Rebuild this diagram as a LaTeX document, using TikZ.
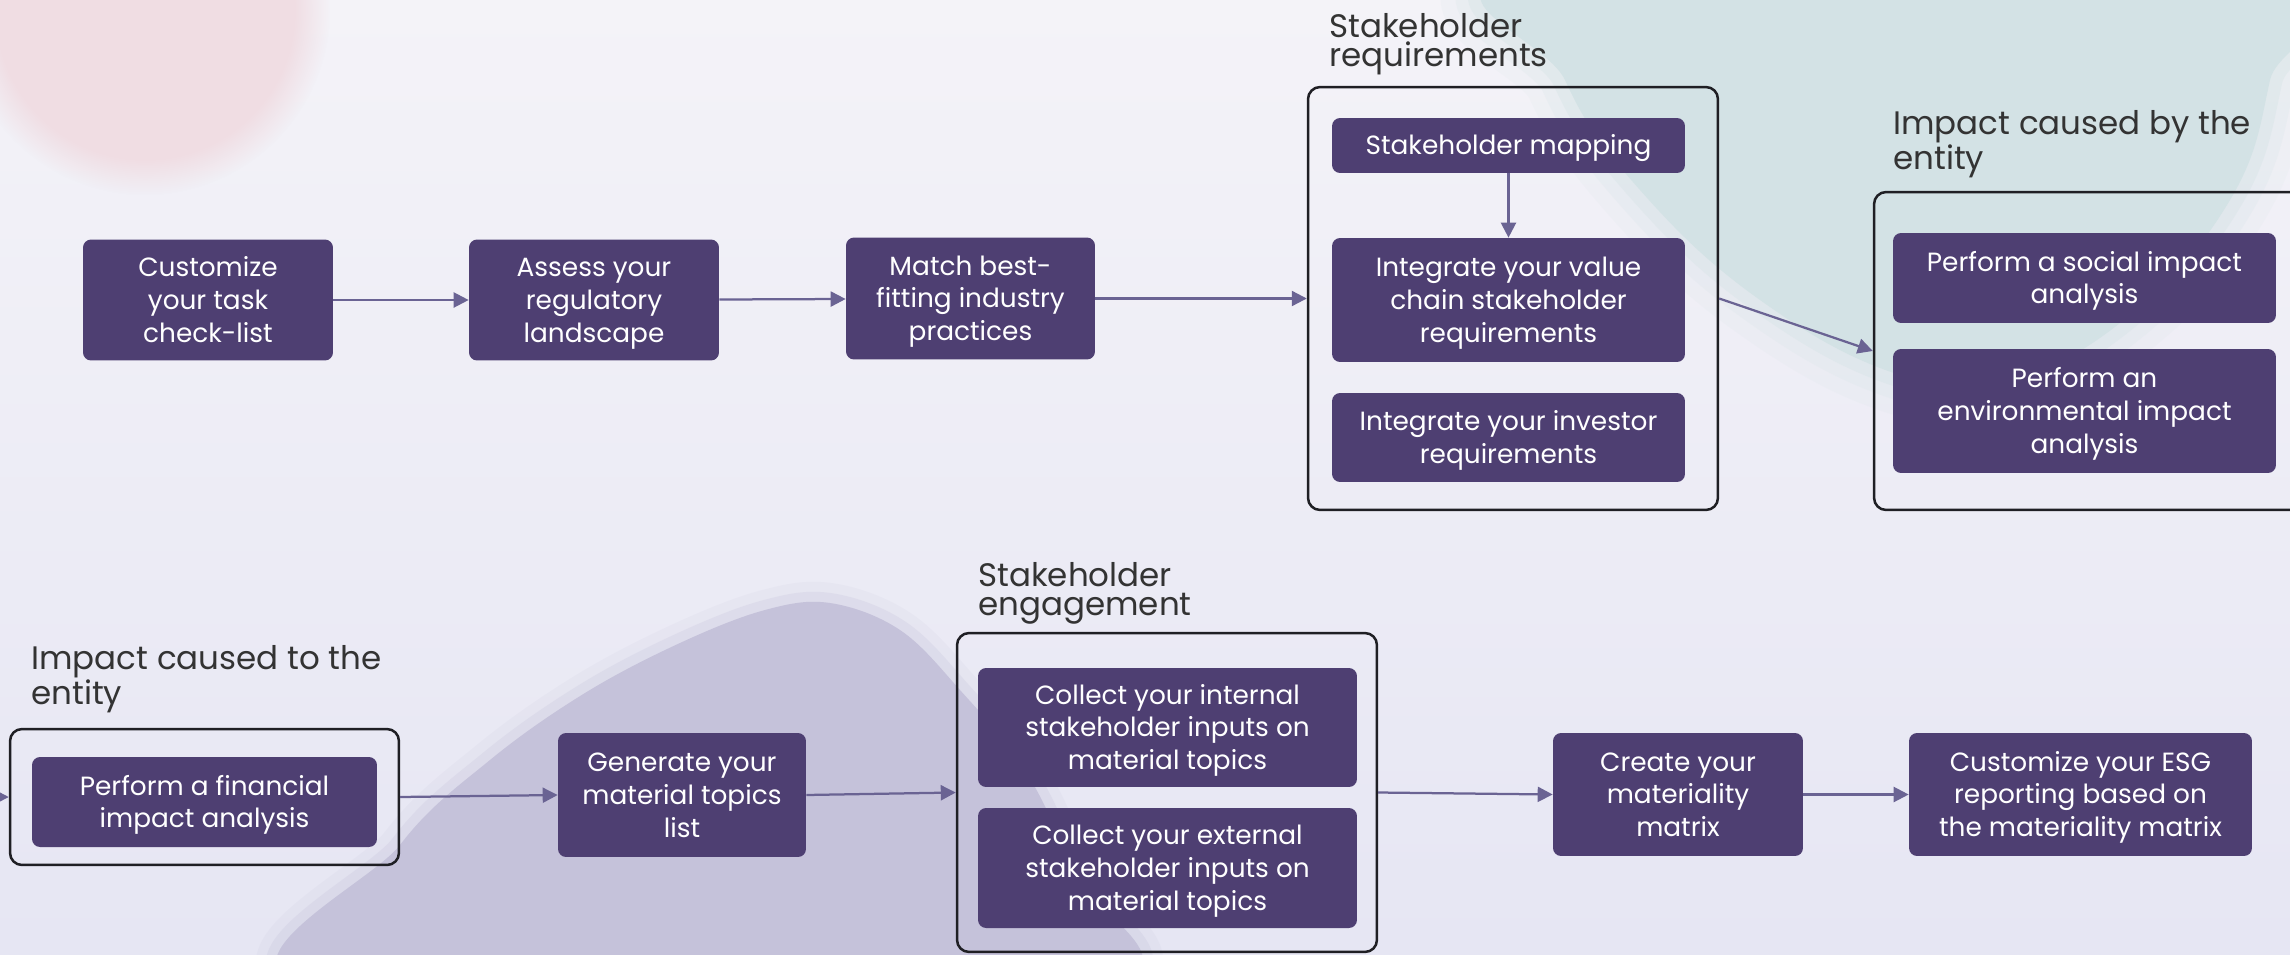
\documentclass[tikz,border=0pt]{standalone}
\usepackage{fontspec}
\setmainfont{Poppins}
\usetikzlibrary{arrows.meta,fadings}

\definecolor{bgtop}{HTML}{F4F3F8}
\definecolor{bgbot}{HTML}{E6E6F3}
\definecolor{boxfill}{HTML}{4E3F72}
\definecolor{arrowc}{HTML}{6A6393}
\definecolor{framec}{HTML}{1F1F24}
\definecolor{titlec}{HTML}{333333}
\definecolor{pinkblob}{HTML}{F0DDE3}
\definecolor{tealblob}{HTML}{D3E2E5}
\definecolor{greyblob}{HTML}{C5C2DA}

\newcommand{\ts}{\rule{0pt}{1.12em}}
\newcommand{\botstrut}{\rule[-0.4em]{0pt}{0.4em}}

\begin{document}
\begin{tikzpicture}[x=0.02cm,y=-0.02cm,
  stepbox/.style={fill=boxfill, rounded corners=0.16cm, text=white, align=center,
    font=\fontsize{15}{18.6}\selectfont, inner sep=0pt,
    execute at end node=\botstrut},
  group/.style={draw=framec, line width=0.05cm, rounded corners=0.24cm, inner sep=0pt},
  gtitle/.style={text=titlec, align=left, anchor=north west, inner sep=0pt,
    font=\fontsize{18.5}{16.5}\selectfont},
  flow/.style={draw=arrowc, line width=0.045cm, -{Triangle[length=0.3cm,width=0.3cm]}}]

\useasboundingbox (0,0) rectangle (2290,954);
\shade[top color=bgtop, bottom color=bgbot] (0,0) rectangle (2290,954);

% decorative blobs
\fill[pinkblob, path fading=circle with fuzzy edge 20 percent] (145,10) ellipse [x radius=3.7cm, y radius=3.7cm];
\foreach \w/\o in {1.6/0.12, 1.0/0.2, 0.5/0.35}{
  \draw[tealblob, line width=\w cm, opacity=\o, line join=round]
    plot[smooth cycle, tension=0.7] coordinates {(1540,-30) (1565,80) (1640,190) (1760,300) (1900,375) (2010,380) (2130,315) (2230,200) (2270,80) (2280,-30)};
}
\fill[tealblob] plot[smooth cycle, tension=0.7] coordinates {(1540,-30) (1565,80) (1640,190) (1760,300) (1900,375) (2010,380) (2130,315) (2230,200) (2270,80) (2280,-30)};
\foreach \w/\o in {0.8/0.12, 0.4/0.25}{
  \draw[greyblob, line width=\w cm, opacity=\o, line join=round]
    plot[smooth cycle, tension=0.6] coordinates {(315,990) (400,845) (490,760) (585,693) (680,643) (765,610) (830,603) (900,630) (960,690) (1025,770) (1070,870) (1090,990)};
}
\fill[greyblob] plot[smooth cycle, tension=0.6] coordinates {(315,990) (400,845) (490,760) (585,693) (680,643) (765,610) (830,603) (900,630) (960,690) (1025,770) (1070,870) (1090,990)};

% group frames
\node[group, minimum width=8.2cm, minimum height=8.46cm] (SR) at (1513,298.5) {};
\node[group, minimum width=10.52cm, minimum height=6.36cm] (IB) at (2137,351) {};
\node[group, minimum width=7.78cm, minimum height=2.72cm] (IT) at (204.5,797) {};
\node[group, minimum width=8.4cm, minimum height=6.38cm] (SE) at (1167,792.5) {};

% group titles
\node[gtitle] (SRt) at (1329,13) {Stakeholder\\requirements};
\node[gtitle] (IBt) at (1893,110) {Impact caused by the\\entity};
\node[gtitle] (ITt) at (31,645) {Impact caused to the\\entity};
\node[gtitle] (SEt) at (978,562) {Stakeholder\\engagement};

% steps
\node[stepbox, minimum width=5cm, minimum height=2.42cm] (B1) at (208,300) {\ts Customize\\your task\\check-list};
\node[stepbox, minimum width=5cm, minimum height=2.42cm] (B2) at (594,300) {\ts Assess your\\regulatory\\landscape};
\node[stepbox, minimum width=4.98cm, minimum height=2.44cm] (B3) at (970.5,298.5) {\ts Match best-\\fitting industry\\practices};
\node[stepbox, minimum width=7.06cm, minimum height=1.10cm] (SM) at (1508.5,145.5) {\ts Stakeholder mapping};
\node[stepbox, minimum width=7.06cm, minimum height=2.48cm] (VC) at (1508.5,300) {\ts Integrate your value\\chain stakeholder\\requirements};
\node[stepbox, minimum width=7.06cm, minimum height=1.78cm] (INV) at (1508.5,437.5) {\ts Integrate your investor\\requirements};
\node[stepbox, minimum width=7.66cm, minimum height=1.80cm] (SOC) at (2084.5,278) {\ts Perform a social impact\\analysis};
\node[stepbox, minimum width=7.66cm, minimum height=2.48cm] (ENV) at (2084.5,411) {\ts Perform an\\environmental impact\\analysis};
\node[stepbox, minimum width=6.90cm, minimum height=1.80cm] (FIN) at (204.5,802) {\ts Perform a financial\\impact analysis};
\node[stepbox, minimum width=4.96cm, minimum height=2.48cm] (GEN) at (682,795) {\ts Generate your\\material topics\\list};
\node[stepbox, minimum width=7.58cm, minimum height=2.38cm] (INT) at (1167.5,727.5) {\ts Collect your internal\\stakeholder inputs on\\material topics};
\node[stepbox, minimum width=7.58cm, minimum height=2.40cm] (EXT) at (1167.5,868) {\ts Collect your external\\stakeholder inputs on\\material topics};
\node[stepbox, minimum width=5.0cm, minimum height=2.46cm] (CR) at (1678,794.5) {\ts Create your\\materiality\\matrix};
\node[stepbox, minimum width=6.86cm, minimum height=2.46cm] (ESG) at (2080.5,794.5) {\ts Customize your ESG\\reporting based on\\the materiality matrix};

% connectors
\coordinate (inL) at (-60,797);
\draw[flow] (B1) -- (B2);
\draw[flow] (B2) -- (B3);
\draw[flow] (B3) -- (SR);
\draw[flow] (SM) -- (VC);
\draw[flow] (SR.east) -- (IB.west);
\draw[flow] (inL) -- (IT.west);
\draw[flow] (IT.east) -- (GEN.west);
\draw[flow] (GEN.east) -- (SE.west);
\draw[flow] (SE.east) -- (CR.west);
\draw[flow] (CR) -- (ESG);
\end{tikzpicture}
\end{document}
